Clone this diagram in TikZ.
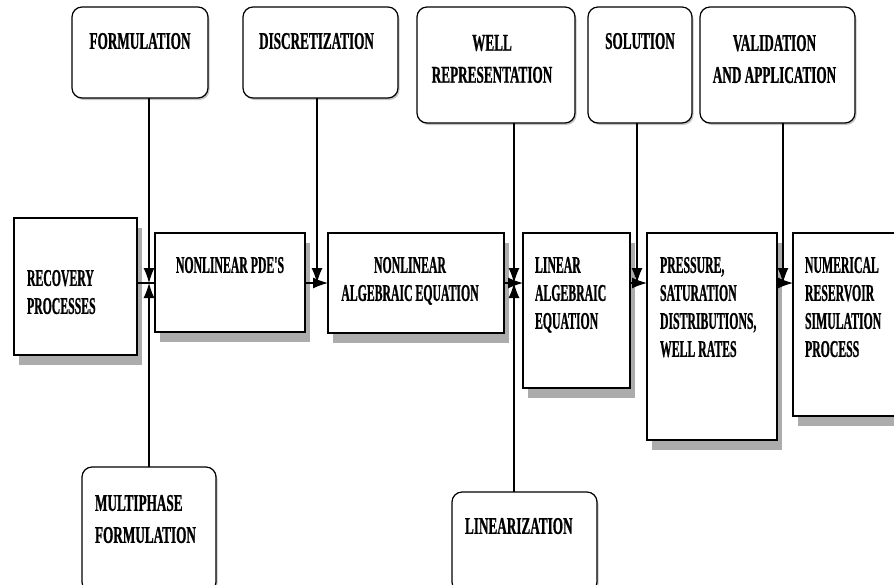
\documentclass[tikz,border=0pt]{standalone}
\usepackage{fontspec}
\newfontfamily\flowfont[FakeStretch=0.49,BoldFeatures={FakeBold=0.8}]{Liberation Serif}
\newfontfamily\stagefont[FakeStretch=0.55,BoldFeatures={FakeBold=0.8}]{Liberation Serif}
\usepackage{tikz}
\usetikzlibrary{positioning}
\usetikzlibrary{arrows.meta,shadows}

\begin{document}
\begin{tikzpicture}[x=1pt,y=-1pt,>={Latex[length=15pt,width=11pt]},
    every node/.style={inner sep=0,outer sep=0},
    flowbox/.style={draw,line width=1.6pt,fill=white,anchor=north west,
        drop shadow={shadow xshift=5pt,shadow yshift=-10pt,fill=gray!65,opacity=1}},
    stagebox/.style={draw,line width=1.2pt,rounded corners=10pt,fill=white,anchor=north west,
        drop shadow={shadow xshift=1.5pt,shadow yshift=-2pt,fill=gray!45,opacity=1}},
    flowtext/.style={font=\flowfont\bfseries\fontsize{24}{28}\selectfont,align=left},
    stagetext/.style={font=\stagefont\bfseries\fontsize{24}{32}\selectfont,align=center},
    link/.style={line width=1.3pt}]
    \path[use as bounding box,clip] (0,0) rectangle (894,584);
    % main chain
    \node (rec) [flowbox,minimum width=123pt,minimum height=137pt] at (14,218) {};
    \node (pde) [flowbox,minimum width=150pt,minimum height=99pt] at (155,233) {};
    \node (nla) [flowbox,minimum width=176pt,minimum height=100pt] at (328,233) {};
    \node (lin) [flowbox,minimum width=107pt,minimum height=155pt] at (523,233) {};
    \node (pre) [flowbox,minimum width=130pt,minimum height=207pt] at (647,233) {};
    \node (num) [flowbox,minimum width=110pt,minimum height=183pt] at (793,233) {};
    \node (recT) [flowtext,below right=52pt and 13pt of rec.north west] {RECOVERY\\PROCESSES};
    \node (pdeT) [flowtext,below=24pt of pde.north] {NONLINEAR PDE'S};
    \node (nlaT) [flowtext,align=center,below=24pt of nla.north,xshift=-6pt] {NONLINEAR\\ALGEBRAIC EQUATION};
    \node (linT) [flowtext,below right=24pt and 12pt of lin.north west] {LINEAR\\ALGEBRAIC\\EQUATION};
    \node (preT) [flowtext,below right=24pt and 13pt of pre.north west] {PRESSURE,\\SATURATION\\DISTRIBUTIONS,\\WELL RATES};
    \node (numT) [flowtext,below right=24pt and 12pt of num.north west] {NUMERICAL\\RESERVOIR\\SIMULATION\\PROCESS};
    % stages above and below
    \node (form) [stagebox,minimum width=136pt,minimum height=91pt] at (72,7) {};
    \node (disc) [stagebox,minimum width=155pt,minimum height=91pt] at (243,7) {};
    \node (well) [stagebox,minimum width=158pt,minimum height=116pt] at (417,7) {};
    \node (sol) [stagebox,minimum width=104pt,minimum height=116pt] at (588,7) {};
    \node (val) [stagebox,minimum width=155pt,minimum height=116pt] at (700,7) {};
    \node (mult) [stagebox,minimum width=134pt,minimum height=125pt] at (82,467) {};
    \node (linz) [stagebox,minimum width=145pt,minimum height=100pt] at (452,492) {};
    \node (formT) [stagetext,below=26pt of form.north] {FORMULATION};
    \node (discT) [stagetext,below=26pt of disc.north,xshift=-4pt] {DISCRETIZATION};
    \node (wellT) [stagetext,below=28pt of well.north,xshift=-4pt] {WELL\\REPRESENTATION};
    \node (solT) [stagetext,below=26pt of sol.north] {SOLUTION};
    \node (valT) [stagetext,below=28pt of val.north,xshift=-3pt] {VALIDATION\\AND APPLICATION};
    \node (multT) [stagetext,align=left,below right=28pt and 13pt of mult.north west] {MULTIPHASE\\FORMULATION};
    \node (linzT) [stagetext,align=left,below right=26pt and 13pt of linz.north west] {LINEARIZATION};
    \coordinate (j1) at (149,283);
    \coordinate (j2) at (317,283);
    \coordinate (j3) at (514,283);
    \coordinate (j4) at (637,283);
    \coordinate (j5) at (783,283);
    \path[link]
        (rec.east |- j1) edge (pde.west |- j1)
        (j1 |- form.south) edge[->] (j1)
        (j1 |- mult.north) edge[->] (j1)
        (pde.east |- j2) edge[->] (nla.west |- j2)
        (j2 |- disc.south) edge[->] (j2)
        (nla.east |- j3) edge[->] (lin.west |- j3)
        (j3 |- well.south) edge[->] (j3)
        (j3 |- linz.north) edge[->] (j3)
        (lin.east |- j4) edge[->] (pre.west |- j4)
        (j4 |- sol.south) edge[->] (j4)
        (pre.east |- j5) edge[->] (num.west |- j5)
        (j5 |- val.south) edge[->] (j5);
\end{tikzpicture}
\end{document}
